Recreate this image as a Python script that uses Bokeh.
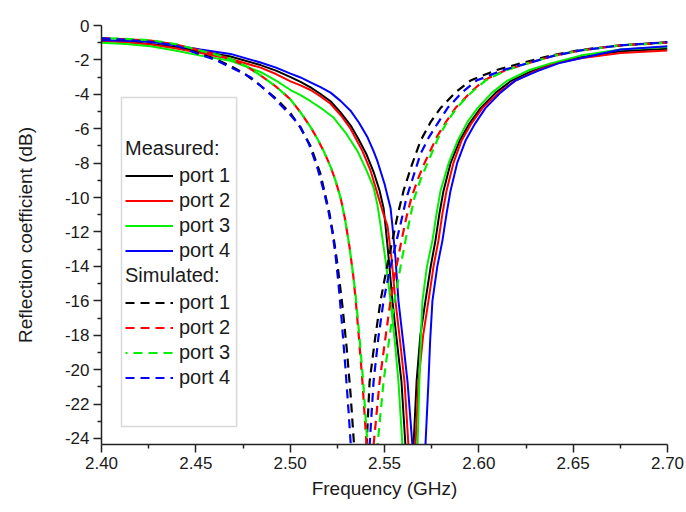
from bokeh.plotting import figure
from bokeh.models import (Range1d, FixedTicker, NumeralTickFormatter, Legend,
                          LegendItem, BoxAnnotation)
from bokeh.embed import file_html
from bokeh.resources import INLINE

# ---------------- data ----------------
# Measured port 1 (black, solid)
m1_f = [2.400, 2.413, 2.426, 2.439, 2.4525, 2.4684, 2.4843, 2.4925, 2.5002, 2.5055,
        2.5108, 2.5161, 2.5214, 2.5267, 2.5320, 2.5362, 2.5405, 2.5442, 2.5474, 2.5495,
        2.5505, 2.5522, 2.5542, 2.5565, 2.5590, 2.5611, 2.5630, 2.5654, 2.5670, 2.5690,
        2.5717, 2.5745, 2.5770, 2.5790, 2.5813, 2.5850, 2.5898, 2.5950, 2.6009, 2.6090,
        2.6173, 2.6280, 2.6396, 2.6539, 2.6751, 2.700]
m1_db = [-0.85, -0.95, -1.07, -1.25, -1.50, -1.80, -2.30, -2.62, -3.00, -3.28,
         -3.60, -3.98, -4.40, -5.05, -5.80, -6.60, -7.50, -8.50, -9.60, -10.6,
         -11.6, -13.5, -16.0, -18.3, -20.7, -24.4, -35.0, -24.4, -20.7, -18.0,
         -16.0, -14.0, -12.5, -11.0, -9.6, -8.0, -6.7, -5.7, -4.8, -3.9,
         -3.2, -2.65, -2.2, -1.85, -1.5, -1.35]

# Measured port 2 (red, solid)
m2_f = [2.400, 2.413, 2.426, 2.439, 2.4525, 2.4684, 2.4843, 2.4925, 2.5002, 2.5055,
        2.5108, 2.5161, 2.5214, 2.5267, 2.5320, 2.5383, 2.5425, 2.5463, 2.5490, 2.5516,
        2.5537, 2.5558, 2.5582, 2.5606, 2.5627, 2.5645, 2.5664, 2.5680, 2.5705, 2.5733,
        2.5760, 2.5786, 2.5806, 2.5829, 2.5865, 2.5908, 2.5960, 2.6019, 2.6105, 2.6194,
        2.6300, 2.6406, 2.6539, 2.6751, 2.700]
m2_db = [-0.90, -0.98, -1.10, -1.32, -1.60, -1.95, -2.45, -2.82, -3.25, -3.48,
         -3.75, -4.12, -4.55, -5.20, -6.00, -7.30, -8.40, -9.80, -10.8, -11.65,
         -13.5, -16.0, -18.3, -20.7, -24.4, -35.0, -24.4, -20.7, -18.0, -16.0,
         -14.0, -12.5, -11.0, -9.6, -8.0, -6.7, -5.7, -4.8, -3.9, -3.2,
         -2.65, -2.2, -1.9, -1.6, -1.45]

# Measured port 3 (green, solid)
m3_f = [2.400, 2.413, 2.426, 2.439, 2.4525, 2.4684, 2.4843, 2.4925, 2.5002, 2.5055,
        2.5108, 2.5170, 2.5230, 2.5295, 2.5357, 2.5400, 2.5442, 2.5462, 2.5479, 2.5505,
        2.5532, 2.5555, 2.5574, 2.5595, 2.5632, 2.5675, 2.5685, 2.5692, 2.5701, 2.5725,
        2.5754, 2.5775, 2.5797, 2.5840, 2.5887, 2.5940, 2.5993, 2.6070, 2.6152, 2.6265,
        2.6380, 2.6539, 2.6751, 2.700]
m3_db = [-1.00, -1.08, -1.20, -1.45, -1.75, -2.05, -2.70, -3.20, -3.75, -4.05,
         -4.40, -4.85, -5.35, -6.25, -7.30, -8.30, -9.40, -10.4, -11.6, -13.6,
         -16.0, -18.4, -20.7, -24.4, -35.0, -24.4, -20.7, -18.3, -16.0, -14.0,
         -12.5, -11.0, -9.6, -8.0, -6.7, -5.6, -4.8, -3.9, -3.2, -2.6,
         -2.2, -1.75, -1.4, -1.25]

# Measured port 4 (blue, solid)
m4_f = [2.400, 2.413, 2.426, 2.439, 2.4525, 2.4684, 2.4843, 2.4925, 2.5002, 2.5055,
        2.5108, 2.5161, 2.5214, 2.5267, 2.5320, 2.5365, 2.5410, 2.5442, 2.5463, 2.5500,
        2.5532, 2.5542, 2.5558, 2.5574, 2.5598, 2.5622, 2.5648, 2.5683, 2.5717, 2.5733,
        2.5742, 2.5754, 2.5780, 2.5807, 2.5828, 2.5850, 2.5885, 2.5929, 2.5980, 2.6035,
        2.6115, 2.6194, 2.6310, 2.6422, 2.6539, 2.6751, 2.700]
m4_db = [-0.85, -0.88, -0.95, -1.15, -1.40, -1.65, -2.15, -2.45, -2.80, -3.02,
         -3.30, -3.58, -3.90, -4.38, -4.95, -5.65, -6.50, -7.30, -7.90, -9.20,
         -10.6, -11.65, -13.5, -16.0, -18.3, -20.7, -24.4, -35.0, -24.4, -20.7,
         -18.3, -16.0, -14.0, -12.5, -11.0, -9.6, -8.0, -6.7, -5.7, -4.8,
         -3.9, -3.2, -2.65, -2.2, -1.9, -1.4, -1.2]

# Simulated port 1 (black, dashed)
s1_f = [2.400, 2.413, 2.426, 2.4392, 2.4525, 2.4605, 2.4684, 2.4765, 2.4843, 2.4925,
        2.5002, 2.5055, 2.5108, 2.5160, 2.5208, 2.5230, 2.5251, 2.5277, 2.5300, 2.5320,
        2.5340, 2.5370, 2.5405, 2.5421, 2.5450, 2.5479, 2.5510, 2.5542, 2.5570, 2.5601,
        2.5645, 2.5691, 2.5745, 2.5797, 2.5875, 2.5956, 2.6090, 2.6220, 2.6380, 2.6539,
        2.6751, 2.700]
s1_db = [-0.75, -0.82, -0.93, -1.15, -1.65, -1.95, -2.35, -2.85, -3.50, -4.25,
         -5.10, -5.95, -7.00, -8.60, -10.9, -12.3, -13.9, -16.3, -18.8, -21.4,
         -24.6, -35.0, -24.4, -20.7, -18.2, -16.0, -14.2, -12.5, -11.0, -9.6,
         -8.1, -6.7, -5.6, -4.8, -3.9, -3.2, -2.6, -2.2, -1.75, -1.42,
         -1.15, -0.97]

# Simulated port 2 (red, dashed)
s2_f = [2.400, 2.413, 2.426, 2.4392, 2.4525, 2.4605, 2.4684, 2.4765, 2.4843, 2.4925,
        2.5002, 2.5055, 2.5108, 2.5145, 2.5180, 2.5214, 2.5240, 2.5267, 2.5290, 2.5315,
        2.5335, 2.5346, 2.5365, 2.5383, 2.5405, 2.5424, 2.5442, 2.5474, 2.5503, 2.5532,
        2.5560, 2.5590, 2.5615, 2.5643, 2.5678, 2.5712, 2.5776, 2.5826, 2.5876, 2.5950,
        2.6025, 2.6140, 2.6258, 2.6400, 2.6539, 2.6751, 2.700]
s2_db = [-0.75, -0.80, -0.88, -1.10, -1.46, -1.68, -1.94, -2.35, -2.90, -3.55,
         -4.30, -5.05, -5.90, -6.60, -7.35, -8.20, -9.00, -10.0, -11.2, -12.9,
         -14.6, -15.8, -18.2, -20.7, -24.4, -35.0, -24.4, -20.7, -18.3, -16.0,
         -14.2, -12.5, -11.2, -10.0, -8.9, -8.0, -6.5, -5.6, -4.8, -3.95,
         -3.2, -2.6, -2.2, -1.75, -1.45, -1.15, -1.0]

# Simulated port 3 (green, dashed)
s3_f = [2.400, 2.413, 2.426, 2.4392, 2.4525, 2.4605, 2.4684, 2.4765, 2.4843, 2.4925,
        2.5002, 2.5055, 2.5108, 2.5145, 2.5180, 2.5214, 2.5240, 2.5267, 2.5290, 2.5315,
        2.5335, 2.5348, 2.5368, 2.5387, 2.5410, 2.5437, 2.5463, 2.5495, 2.5524, 2.5553,
        2.5582, 2.5611, 2.5635, 2.5659, 2.5693, 2.5728, 2.5786, 2.5832, 2.5882, 2.5955,
        2.6035, 2.6145, 2.6258, 2.6400, 2.6539, 2.6751, 2.700]
s3_db = [-0.72, -0.78, -0.85, -1.08, -1.46, -1.68, -1.94, -2.35, -2.90, -3.55,
         -4.30, -5.05, -5.90, -6.60, -7.35, -8.20, -9.00, -10.0, -11.2, -12.9,
         -14.6, -15.8, -18.2, -20.7, -24.4, -35.0, -24.4, -20.7, -18.3, -16.0,
         -14.2, -12.5, -11.2, -10.0, -8.9, -8.0, -6.5, -5.6, -4.8, -3.95,
         -3.2, -2.6, -2.2, -1.75, -1.45, -1.15, -1.0]

# Simulated port 4 (blue, dashed)
s4_f = [2.400, 2.413, 2.426, 2.4392, 2.4525, 2.4605, 2.4684, 2.4790, 2.4843, 2.4905,
        2.4965, 2.5010, 2.5055, 2.5100, 2.5145, 2.5180, 2.5203, 2.5222, 2.5240, 2.5256,
        2.5272, 2.5293, 2.5310, 2.5325, 2.5362, 2.5421, 2.5442, 2.5467, 2.5495, 2.5530,
        2.5564, 2.5590, 2.5617, 2.5655, 2.5691, 2.5735, 2.5781, 2.5834, 2.5910, 2.5988,
        2.6125, 2.6258, 2.6400, 2.6539, 2.6751, 2.700]
s4_db = [-0.75, -0.83, -0.95, -1.15, -1.70, -2.00, -2.43, -3.00, -3.50, -4.10,
         -4.80, -5.30, -5.90, -6.90, -8.30, -9.70, -10.8, -11.9, -13.3, -15.0,
         -17.0, -19.9, -22.5, -25.0, -35.0, -24.4, -20.7, -18.2, -16.0, -14.1,
         -12.5, -11.3, -10.0, -8.7, -7.45, -6.5, -5.7, -4.8, -3.9, -3.2,
         -2.6, -2.2, -1.75, -1.45, -1.15, -0.97]

x_ticks = [2.40, 2.45, 2.50, 2.55, 2.60, 2.65, 2.70]
x_minor = [2.425, 2.475, 2.525, 2.575, 2.625, 2.675]
y_ticks = [0, -2, -4, -6, -8, -10, -12, -14, -16, -18, -20, -22, -24]
y_minor = [-1, -3, -5, -7, -9, -11, -13, -15, -17, -19, -21, -23]

port_labels = ["port 1", "port 2", "port 3", "port 4"]
colors = ["#000000", "#ff0000", "#00f000", "#0000ff"]

FONT = "Liberation Sans"
TXT = "#1a1a1a"

p = figure(width=686, height=512, x_range=Range1d(2.40, 2.70),
           y_range=Range1d(-24.35, 0), output_backend="svg",
           toolbar_location=None, min_border_left=101, min_border_right=19,
           min_border_top=25, min_border_bottom=68)
p.outline_line_color = None
p.xgrid.visible = False
p.ygrid.visible = False
p.background_fill_color = "white"

meas = [(m1_f, m1_db), (m2_f, m2_db), (m3_f, m3_db), (m4_f, m4_db)]
sims = [(s1_f, s1_db), (s2_f, s2_db), (s3_f, s3_db), (s4_f, s4_db)]
dash_offsets = [0, 0, 7, 0]

m_renderers = []
for (f, d), c in zip(meas, colors):
    m_renderers.append(p.line(f, d, line_color=c, line_width=2))
s_renderers = []
for (f, d), c, off in zip(sims, colors, dash_offsets):
    s_renderers.append(p.line(f, d, line_color=c, line_width=2.2,
                              line_dash="9 6", line_dash_offset=off))

# axes
p.xaxis.ticker = FixedTicker(ticks=x_ticks, minor_ticks=x_minor)
p.xaxis.formatter = NumeralTickFormatter(format="0.00")
p.yaxis.ticker = FixedTicker(ticks=y_ticks, minor_ticks=y_minor)
p.yaxis.formatter = NumeralTickFormatter(format="0")
p.xaxis.axis_label = "Frequency (GHz)"
p.yaxis.axis_label = "Reflection coefficient (dB)"
for ax in (p.xaxis[0], p.yaxis[0]):
    ax.axis_line_color = "#222222"
    ax.axis_line_width = 1.5
    ax.major_tick_line_color = "#222222"
    ax.minor_tick_line_color = "#222222"
    ax.major_tick_line_width = 1.5
    ax.minor_tick_line_width = 1.5
    ax.major_tick_out = 8
    ax.major_tick_in = 0
    ax.minor_tick_out = 4
    ax.minor_tick_in = 0
    ax.major_label_text_font = FONT
    ax.major_label_text_font_size = "17px"
    ax.major_label_text_color = TXT
    ax.major_label_standoff = 4
    ax.axis_label_text_font = FONT
    ax.axis_label_text_font_size = "19px"
    ax.axis_label_text_font_style = "normal"
    ax.axis_label_text_color = TXT
p.xaxis.axis_label_standoff = 6
p.yaxis.axis_label_standoff = 26

# legend frame
box = BoxAnnotation(left=2.4106, right=2.4716, top=-4.19, bottom=-23.3,
                    fill_color="white", fill_alpha=1.0,
                    line_color="#808080", line_width=1.5)
p.add_layout(box)


def make_legend(title, renderers, loc):
    lg = Legend(items=[LegendItem(label=lab, renderers=[r])
                       for lab, r in zip(port_labels, renderers)],
                title=title, location=loc, orientation="vertical",
                padding=0, margin=0, spacing=0,
                label_height=25, glyph_height=25, glyph_width=48,
                label_standoff=6,
                label_text_font=FONT, label_text_font_size="20px",
                label_text_color=TXT,
                title_text_font=FONT, title_text_font_size="20px",
                title_text_font_style="normal", title_text_color=TXT,
                title_standoff=3,
                border_line_alpha=0, background_fill_alpha=0)
    return lg


p.add_layout(make_legend("Measured:", m_renderers, (24, 181)))
p.add_layout(make_legend("Simulated:", s_renderers, (24, 54)))

open("out.html", "w").write(file_html(p, INLINE))
